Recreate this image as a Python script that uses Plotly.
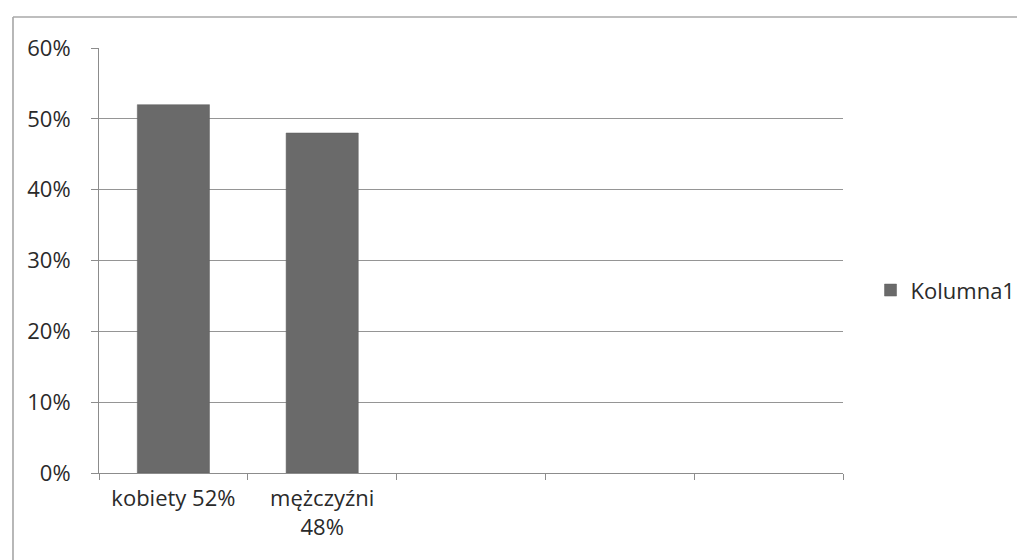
import plotly.graph_objects as go

categories = ["kobiety 52%", "mężczyźni<br>48%", " ", "  ", "   "]
values = [0.52, 0.48, None, None, None]
series_name = "Kolumna1"

font_family = "Open Sans, Liberation Sans, sans-serif"
text_color = "#2a2a2a"
fs = 22

fig = go.Figure()
fig.add_trace(go.Bar(
    x=categories, y=values, name=series_name,
    marker=dict(color="#6a6a6a", line=dict(color="#5e5e5e", width=0.5)),
    showlegend=True,
))

fig.update_layout(
    width=1025, height=560,
    margin=dict(l=91, r=190, t=40, b=95),
    paper_bgcolor="white", plot_bgcolor="white",
    font=dict(family=font_family, size=fs, color=text_color),
    bargap=0.515,
    showlegend=True,
    legend=dict(x=1.037, y=0.43, xanchor="left", yanchor="middle",
                font=dict(size=fs, color=text_color),
                itemwidth=30, bgcolor="rgba(0,0,0,0)"),
    xaxis=dict(
        type="category", categoryorder="array", categoryarray=categories,
        range=[-0.5, 4.5], showline=True, linecolor="#8c8c8c", linewidth=1,
        ticks="outside", tickson="boundaries", ticklen=6, tickcolor="#8c8c8c",
        showgrid=False, fixedrange=True, ticklabelstandoff=6,
        tickfont=dict(size=fs, color=text_color),
    ),
    yaxis=dict(
        range=[0, 0.6], tickformat=".0%", dtick=0.1, tick0=0,
        showline=True, linecolor="#8c8c8c", linewidth=1,
        ticks="outside", ticklen=7, tickcolor="#8c8c8c",
        showgrid=True, gridcolor="#959595", gridwidth=1,
        zeroline=False, ticklabelstandoff=16,
        tickfont=dict(size=fs, color=text_color),
    ),
)

# outer chart border (left and top edges visible in the scan)
fig.add_shape(type="line", xref="paper", yref="paper",
              x0=-0.1156, x1=-0.1156, y0=1.073, y1=-0.25,
              line=dict(color="#a0a0a0", width=1.5))
fig.add_shape(type="line", xref="paper", yref="paper",
              x0=-0.1156, x1=1.26, y0=1.073, y1=1.073,
              line=dict(color="#a8a8a8", width=1.5))

fig.write_html("out.html")
